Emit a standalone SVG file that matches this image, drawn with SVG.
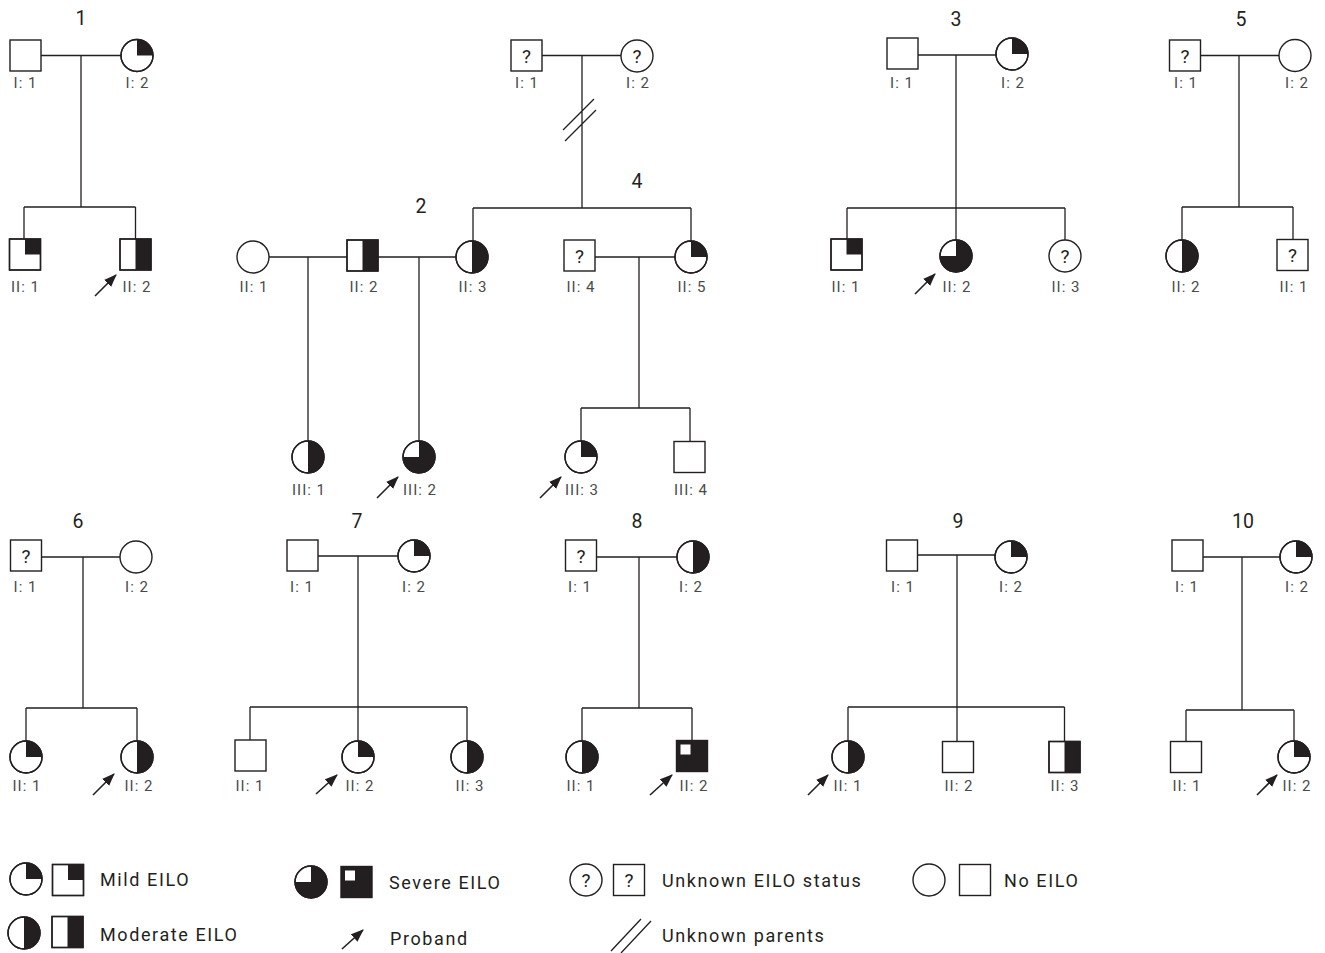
<svg xmlns="http://www.w3.org/2000/svg" xmlns:xlink="http://www.w3.org/1999/xlink" width="1325" height="953" viewBox="0 0 1325 953">
<style>
.ln{stroke:#231f20;stroke-width:1.3;fill:none}
.sym{fill:#fff;stroke:#231f20;stroke-width:1.4}
.out{fill:none;stroke:#231f20;stroke-width:1.4}
.blk{fill:#231f20}
.wht{fill:#fff}
text{font-family:Roboto,"Liberation Sans",sans-serif}
.lbl{font-size:15px;fill:#4a4a4a;text-anchor:middle;letter-spacing:1px}
.ttl{font-size:19.5px;fill:#231f20;text-anchor:middle}
.q{font-size:19px;fill:#231f20;text-anchor:middle}
.leg{font-size:18px;fill:#231f20;letter-spacing:1.6px}
.arr{stroke:#231f20;stroke-width:1.6;fill:none}
</style>
<defs>
<marker id="ah" markerUnits="userSpaceOnUse" markerWidth="14" markerHeight="11" refX="12" refY="5" orient="auto">
<path d="M0,0 L13,5 L0,10 Z" fill="#231f20"/>
</marker>
<g id="sq-none"><rect class="sym" x="-15.5" y="-15.5" width="31" height="31"/></g>
<g id="sq-unk"><rect class="sym" x="-15.5" y="-15.5" width="31" height="31"/><text class="q" x="0" y="7">?</text></g>
<g id="sq-mild"><rect class="sym" x="-15.5" y="-15.5" width="31" height="31"/><rect class="blk" x="0" y="-15.5" width="15.5" height="15.5"/><rect class="out" x="-15.5" y="-15.5" width="31" height="31"/></g>
<g id="sq-mod"><rect class="sym" x="-15.5" y="-15.5" width="31" height="31"/><rect class="blk" x="0" y="-15.5" width="15.5" height="31"/><rect class="out" x="-15.5" y="-15.5" width="31" height="31"/></g>
<g id="sq-sev"><rect class="blk" x="-15.5" y="-15.5" width="31" height="31"/><rect class="wht" x="-11.5" y="-11.5" width="10" height="10"/><rect class="out" x="-15.5" y="-15.5" width="31" height="31"/></g>
<g id="ci-none"><circle class="sym" r="16"/></g>
<g id="ci-unk"><circle class="sym" r="16"/><text class="q" x="0" y="7">?</text></g>
<g id="ci-mild"><circle class="sym" r="16"/><path class="blk" d="M0,0 V-16 A16,16 0 0 1 16,0 Z"/><circle class="out" r="16"/></g>
<g id="ci-mod"><circle class="sym" r="16"/><path class="blk" d="M0,-16 A16,16 0 0 1 0,16 Z"/><circle class="out" r="16"/></g>
<g id="ci-sev"><circle class="sym" r="16"/><path class="blk" d="M0,0 V-16 A16,16 0 1 1 -16,0 Z"/><circle class="out" r="16"/></g>
</defs>
<rect width="1325" height="953" fill="#fff"/>

<g id="connectors">
<path class="ln" d="M41,55.5 H121 M81,55.5 V207 M24,207 H135.5 M24,207 V239 M135.5,207 V239"/>
<path class="ln" d="M542,55.5 H621 M582,55.5 V208 M473,208 H691 M473,208 V241 M691,208 V241 M563,130 L594,99 M565,141 L596,110"/>
<path class="ln" d="M595,257 H675 M639,257 V408 M581,408 H690 M581,408 V441 M690,408 V441.5"/>
<path class="ln" d="M269,257 H347 M378,257 H456 M308,257 V441 M419,257 V441"/>
<path class="ln" d="M918,55 H996 M956,55 V240 M847,208 H1065 M847,208 V239 M1065,208 V240"/>
<path class="ln" d="M1201,55.5 H1279 M1239,55.5 V207 M1182,207 H1293 M1182,207 V240 M1293,207 V239.5"/>
<path class="ln" d="M42,557 H120 M83,557 V708 M26,708 H137 M26,708 V741 M137,708 V741"/>
<path class="ln" d="M318,556 H398 M358,556 V741 M250,707 H467 M250,707 V740 M467,707 V741"/>
<path class="ln" d="M597,557 H677 M639,557 V708 M582,708 H692 M582,708 V741 M692,708 V740.5"/>
<path class="ln" d="M918,555 H995 M957,555 V741.5 M848,707 H1064.5 M848,707 V741 M1064.5,707 V741.5"/>
<path class="ln" d="M1203,557 H1280 M1242,557 V710 M1186,710 H1294 M1186,710 V741.5 M1294,710 V741"/>
</g>

<g id="probands">
<line class="arr" x1="95" y1="296" x2="116" y2="275" marker-end="url(#ah)"/>
<line class="arr" x1="377" y1="498" x2="398" y2="477" marker-end="url(#ah)"/>
<line class="arr" x1="540" y1="498" x2="561" y2="477" marker-end="url(#ah)"/>
<line class="arr" x1="915" y1="294" x2="935" y2="274" marker-end="url(#ah)"/>
<line class="arr" x1="93" y1="795" x2="114" y2="774" marker-end="url(#ah)"/>
<line class="arr" x1="316" y1="794" x2="337" y2="775" marker-end="url(#ah)"/>
<line class="arr" x1="650" y1="795" x2="672" y2="775" marker-end="url(#ah)"/>
<line class="arr" x1="808" y1="795" x2="828" y2="775" marker-end="url(#ah)"/>
<line class="arr" x1="1257" y1="795" x2="1277" y2="775" marker-end="url(#ah)"/>
</g>

<g id="family-1">
<text class="ttl" x="81" y="25">1</text>
<g id="f1-I1"><use href="#sq-none" x="25.5" y="55.5"/><text class="lbl" x="25.5" y="88">I: 1</text></g>
<g id="f1-I2"><use href="#ci-mild" x="137" y="55.5"/><text class="lbl" x="137.5" y="88">I: 2</text></g>
<g id="f1-II1"><use href="#sq-mild" x="25" y="254.5"/><text class="lbl" x="25.5" y="292">II: 1</text></g>
<g id="f1-II2"><use href="#sq-mod" x="135.5" y="254.5"/><text class="lbl" x="137" y="292">II: 2</text></g>
</g>

<g id="family-2-4">
<text class="ttl" x="421" y="213">2</text>
<text class="ttl" x="637" y="188">4</text>
<g id="f4-I1"><use href="#sq-unk" x="526.5" y="55.5"/><text class="lbl" x="527" y="88">I: 1</text></g>
<g id="f4-I2"><use href="#ci-unk" x="637" y="56"/><text class="lbl" x="638" y="88">I: 2</text></g>
<g id="f2-II1"><use href="#ci-none" x="253" y="257"/><text class="lbl" x="254" y="292">II: 1</text></g>
<g id="f2-II2"><use href="#sq-mod" x="362.5" y="255.5"/><text class="lbl" x="364" y="292">II: 2</text></g>
<g id="f2-II3"><use href="#ci-mod" x="472" y="257"/><text class="lbl" x="473" y="292">II: 3</text></g>
<g id="f4-II4"><use href="#sq-unk" x="579.5" y="255.5"/><text class="lbl" x="581" y="292">II: 4</text></g>
<g id="f4-II5"><use href="#ci-mild" x="691" y="257"/><text class="lbl" x="692" y="292">II: 5</text></g>
<g id="f2-III1"><use href="#ci-mod" x="308" y="457"/><text class="lbl" x="309" y="495">III: 1</text></g>
<g id="f2-III2"><use href="#ci-sev" x="419" y="457"/><text class="lbl" x="420" y="495">III: 2</text></g>
<g id="f4-III3"><use href="#ci-mild" x="581" y="457"/><text class="lbl" x="582" y="495">III: 3</text></g>
<g id="f4-III4"><use href="#sq-none" x="689.5" y="457"/><text class="lbl" x="691" y="495">III: 4</text></g>
</g>

<g id="family-3">
<text class="ttl" x="956" y="26">3</text>
<g id="f3-I1"><use href="#sq-none" x="902.5" y="53.5"/><text class="lbl" x="902" y="88">I: 1</text></g>
<g id="f3-I2"><use href="#ci-mild" x="1012" y="54"/><text class="lbl" x="1013" y="88">I: 2</text></g>
<g id="f3-II1"><use href="#sq-mild" x="846.5" y="254.5"/><text class="lbl" x="846" y="292">II: 1</text></g>
<g id="f3-II2"><use href="#ci-sev" x="956" y="256"/><text class="lbl" x="957" y="292">II: 2</text></g>
<g id="f3-II3"><use href="#ci-unk" x="1065" y="256"/><text class="lbl" x="1066" y="292">II: 3</text></g>
</g>

<g id="family-5">
<text class="ttl" x="1241" y="26">5</text>
<g id="f5-I1"><use href="#sq-unk" x="1185" y="55.5"/><text class="lbl" x="1186" y="88">I: 1</text></g>
<g id="f5-I2"><use href="#ci-none" x="1295" y="55.5"/><text class="lbl" x="1297" y="88">I: 2</text></g>
<g id="f5-II2"><use href="#ci-mod" x="1182" y="256"/><text class="lbl" x="1186" y="292">II: 2</text></g>
<g id="f5-II1"><use href="#sq-unk" x="1292.5" y="255"/><text class="lbl" x="1294" y="292">II: 1</text></g>
</g>

<g id="family-6">
<text class="ttl" x="78" y="528">6</text>
<g id="f6-I1"><use href="#sq-unk" x="26" y="555.5"/><text class="lbl" x="25.5" y="592">I: 1</text></g>
<g id="f6-I2"><use href="#ci-none" x="136" y="557"/><text class="lbl" x="137" y="592">I: 2</text></g>
<g id="f6-II1"><use href="#ci-mild" x="26" y="757"/><text class="lbl" x="27" y="791">II: 1</text></g>
<g id="f6-II2"><use href="#ci-mod" x="137" y="757"/><text class="lbl" x="139" y="791">II: 2</text></g>
</g>

<g id="family-7">
<text class="ttl" x="357" y="528">7</text>
<g id="f7-I1"><use href="#sq-none" x="302.5" y="555.5"/><text class="lbl" x="302" y="592">I: 1</text></g>
<g id="f7-I2"><use href="#ci-mild" x="414" y="556"/><text class="lbl" x="414" y="592">I: 2</text></g>
<g id="f7-II1"><use href="#sq-none" x="250.5" y="755.5"/><text class="lbl" x="250" y="791">II: 1</text></g>
<g id="f7-II2"><use href="#ci-mild" x="358" y="757"/><text class="lbl" x="360" y="791">II: 2</text></g>
<g id="f7-II3"><use href="#ci-mod" x="467" y="757"/><text class="lbl" x="470" y="791">II: 3</text></g>
</g>

<g id="family-8">
<text class="ttl" x="637" y="528">8</text>
<g id="f8-I1"><use href="#sq-unk" x="581" y="555.5"/><text class="lbl" x="580" y="592">I: 1</text></g>
<g id="f8-I2"><use href="#ci-mod" x="693" y="557"/><text class="lbl" x="691" y="592">I: 2</text></g>
<g id="f8-II1"><use href="#ci-mod" x="582" y="757"/><text class="lbl" x="581" y="791">II: 1</text></g>
<g id="f8-II2"><use href="#sq-sev" x="692" y="756"/><text class="lbl" x="694" y="791">II: 2</text></g>
</g>

<g id="family-9">
<text class="ttl" x="958" y="528">9</text>
<g id="f9-I1"><use href="#sq-none" x="902" y="555.5"/><text class="lbl" x="903" y="592">I: 1</text></g>
<g id="f9-I2"><use href="#ci-mild" x="1011" y="557"/><text class="lbl" x="1011" y="592">I: 2</text></g>
<g id="f9-II1"><use href="#ci-mod" x="848" y="757"/><text class="lbl" x="848" y="791">II: 1</text></g>
<g id="f9-II2"><use href="#sq-none" x="958" y="757"/><text class="lbl" x="959" y="791">II: 2</text></g>
<g id="f9-II3"><use href="#sq-mod" x="1064.5" y="757"/><text class="lbl" x="1065" y="791">II: 3</text></g>
</g>

<g id="family-10">
<text class="ttl" x="1243" y="528">10</text>
<g id="f10-I1"><use href="#sq-none" x="1187.5" y="555.5"/><text class="lbl" x="1187" y="592">I: 1</text></g>
<g id="f10-I2"><use href="#ci-mild" x="1296" y="557"/><text class="lbl" x="1297" y="592">I: 2</text></g>
<g id="f10-II1"><use href="#sq-none" x="1186" y="757"/><text class="lbl" x="1187" y="791">II: 1</text></g>
<g id="f10-II2"><use href="#ci-mild" x="1294" y="757"/><text class="lbl" x="1297" y="791">II: 2</text></g>
</g>

<g id="legend">
<use href="#ci-mild" x="26" y="879"/>
<use href="#sq-mild" x="68" y="880"/>
<text class="leg" x="100" y="886">Mild EILO</text>
<use href="#ci-mod" x="24" y="933"/>
<use href="#sq-mod" x="67.5" y="932"/>
<text class="leg" x="100" y="941">Moderate EILO</text>
<use href="#ci-sev" x="311" y="882"/>
<use href="#sq-sev" x="356.5" y="882"/>
<text class="leg" x="389" y="889">Severe EILO</text>
<line class="arr" x1="342" y1="949" x2="363" y2="930" marker-end="url(#ah)"/>
<text class="leg" x="390" y="945">Proband</text>
<use href="#ci-unk" x="586" y="880"/>
<use href="#sq-unk" x="629" y="880"/>
<text class="leg" x="662" y="887">Unknown EILO status</text>
<use href="#ci-none" x="929" y="880"/>
<use href="#sq-none" x="975" y="880"/>
<text class="leg" x="1004" y="887">No EILO</text>
<path class="ln" d="M611,951 L641,919 M621,953 L651,921"/>
<text class="leg" x="662" y="942">Unknown parents</text>
</g>
</svg>
